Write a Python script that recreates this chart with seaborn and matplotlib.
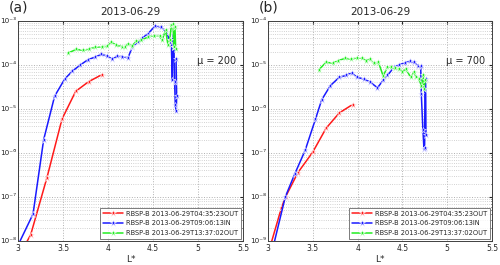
import numpy as np
import pandas as pd
import matplotlib
matplotlib.use("Agg")
import matplotlib.pyplot as plt
import seaborn as sns
from matplotlib.ticker import FixedLocator, NullFormatter

sns.set_style("white")
plt.rcParams['font.family'] = ['DejaVu Sans']

labels = ["RBSP-B 2013-06-29T04:35:23OUT",
          "RBSP-B 2013-06-29T09:06:13IN",
          "RBSP-B 2013-06-29T13:37:02OUT"]
colors = ["#ff1a1a", "#1a1aff", "#22ee22"]

# Panel (a): mu = 200 ; values as log10(PSD)
a_red_L = [3.05, 3.141, 3.322, 3.489, 3.641, 3.785, 3.933]
a_red_log = [-8.2, -7.86, -6.56, -5.23, -4.60, -4.38, -4.22]
a_blue_L = [3.0, 3.167, 3.285, 3.407, 3.519, 3.604, 3.693, 3.778, 3.859, 3.926, 3.993,
            4.048, 4.104, 4.156, 4.222, 4.27, 4.333, 4.381, 4.444, 4.526, 4.585, 4.648,
            4.685, 4.704, 4.715, 4.722, 4.733, 4.74, 4.748, 4.759, 4.763, 4.756]
a_blue_log = [-8.1, -7.39, -5.70, -4.71, -4.32, -4.14, -4.0, -3.88, -3.82, -3.76, -3.80,
              -3.87, -3.80, -3.81, -3.84, -3.59, -3.48, -3.39, -3.29, -3.11, -3.14, -3.25,
              -3.44, -3.555, -4.35, -3.33, -3.60, -4.39, -4.92, -5.04, -4.70, -3.86]
a_green_L = [3.556, 3.648, 3.722, 3.785, 3.859, 3.933, 3.993, 4.037, 4.093, 4.156, 4.185,
             4.222, 4.267, 4.315, 4.37, 4.444, 4.511, 4.574, 4.6, 4.64, 4.667, 4.685,
             4.704, 4.722, 4.733, 4.744, 4.752]
a_green_log = [-3.73, -3.646, -3.67, -3.64, -3.60, -3.585, -3.578, -3.48, -3.555, -3.585, -3.59,
               -3.52, -3.57, -3.456, -3.44, -3.365, -3.335, -3.335, -3.44, -3.21, -3.555, -3.44,
               -3.10, -3.08, -3.59, -3.14, -3.63]

# Panel (b): mu = 700
b_red_L = [3.0, 3.148, 3.196, 3.333, 3.5, 3.648, 3.796, 3.944]
b_red_log = [-9.3, -8.26, -8.0, -7.45, -6.98, -6.44, -6.09, -5.90]
b_blue_L = [3.05, 3.193, 3.296, 3.415, 3.53, 3.6, 3.696, 3.796, 3.87, 3.933, 3.993, 4.067,
            4.141, 4.222, 4.285, 4.333, 4.407, 4.463, 4.526, 4.585, 4.63, 4.678, 4.704,
            4.711, 4.729, 4.741, 4.748, 4.752, 4.759, 4.763]
b_blue_log = [-9.2, -8.0, -7.49, -6.94, -6.23, -5.79, -5.47, -5.28, -5.24, -5.18, -5.28, -5.32,
              -5.39, -5.52, -5.35, -5.24, -5.05, -5.0, -4.95, -4.92, -4.94, -5.03, -5.02,
              -5.66, -6.48, -6.92, -6.88, -5.35, -5.33, -6.6]
b_green_L = [3.567, 3.648, 3.722, 3.785, 3.863, 3.926, 3.993, 4.048, 4.093, 4.137, 4.178,
             4.233, 4.285, 4.333, 4.37, 4.415, 4.463, 4.5, 4.537, 4.593, 4.63, 4.656, 4.685,
             4.711, 4.73, 4.741, 4.756]
b_green_log = [-5.11, -4.94, -4.96, -4.90, -4.85, -4.87, -4.84, -4.845, -4.90, -4.87, -4.96,
               -4.94, -5.25, -5.05, -5.05, -5.07, -5.09, -5.16, -5.09, -5.28, -5.16, -5.28, -5.32,
               -5.47, -5.24, -5.54, -5.35]

panels = [
    dict(tag="(a)", mu="\u03bc = 200", ylim=(-8, -3),
         series=[(a_red_L, a_red_log), (a_blue_L, a_blue_log), (a_green_L, a_green_log)]),
    dict(tag="(b)", mu="\u03bc = 700", ylim=(-9, -4),
         series=[(b_red_L, b_red_log), (b_blue_L, b_blue_log), (b_green_L, b_green_log)]),
]
xticks = [3, 3.5, 4, 4.5, 5, 5.5]
xticklabels = ["3", "3.5", "4", "4.5", "5", "5.5"]
SUP = "\u2070\u00b9\u00b2\u00b3\u2074\u2075\u2076\u2077\u2078\u2079"

fig = plt.figure(figsize=(5.0, 2.65), dpi=100)
rects = [[0.036, 0.091, 0.450, 0.830], [0.536, 0.091, 0.448, 0.830]]

for rect, p in zip(rects, panels):
    ax = fig.add_axes(rect)
    frames = []
    for (Ls, lg), lab in zip(p["series"], labels):
        frames.append(pd.DataFrame({"L": Ls, "psd": 10.0 ** np.array(lg), "series": lab}))
    df = pd.concat(frames, ignore_index=True)
    sns.lineplot(data=df, x="L", y="psd", hue="series", palette=colors, hue_order=labels,
                 sort=False, estimator=None, units="series", marker="*", markersize=4.5,
                 markeredgewidth=0.4, linewidth=1.1, ax=ax, legend=True)
    ax.set_yscale("log")
    lo, hi = p["ylim"]
    ax.set_xlim(3, 5.5)
    ax.set_ylim(10.0 ** lo, 10.0 ** hi)
    ax.xaxis.set_major_locator(FixedLocator(xticks))
    ax.set_xticklabels(xticklabels)
    ax.xaxis.set_minor_locator(FixedLocator([]))
    exps = list(range(lo, hi + 1))
    ax.yaxis.set_major_locator(FixedLocator([10.0 ** e for e in exps]))
    ax.set_yticklabels(["10\u207b" + SUP[abs(e)] for e in exps])
    minors = [m * 10.0 ** e for e in range(lo, hi) for m in range(2, 10)]
    ax.yaxis.set_minor_locator(FixedLocator(minors))
    ax.yaxis.set_minor_formatter(NullFormatter())
    ax.grid(True, which="major", color="#b0b0b0", linestyle=":", linewidth=0.7)
    ax.grid(True, which="minor", axis="y", color="#c4c4c4", linestyle=":", linewidth=0.6)
    ax.tick_params(axis="both", which="both", direction="in", pad=2,
                   top=True, right=True, length=2)
    ax.tick_params(axis="x", labelsize=5.5)
    ax.tick_params(axis="y", labelsize=5.2, pad=1)
    ax.tick_params(which="minor", length=1)
    for s in ax.spines.values():
        s.set_color("#404040")
        s.set_linewidth(0.7)
    ax.set_xlabel("L*", fontsize=6.5, labelpad=2)
    ax.set_ylabel("")
    ax.set_title("2013-06-29", fontsize=7.5, pad=4)
    ax.text(-0.04, 1.03, p["tag"], transform=ax.transAxes, fontsize=10, ha="left", va="bottom")
    ax.text(0.97, 0.82, p["mu"], transform=ax.transAxes, fontsize=7, ha="right", va="center")
    leg = ax.legend(loc="lower right", fontsize=4.8, frameon=True, fancybox=False,
                    borderaxespad=0.3, handlelength=3.0, labelspacing=0.55, borderpad=0.45,
                    handletextpad=0.4)
    leg.get_frame().set_edgecolor("#404040")
    leg.get_frame().set_linewidth(0.6)

fig.savefig("out.png", dpi=100)
